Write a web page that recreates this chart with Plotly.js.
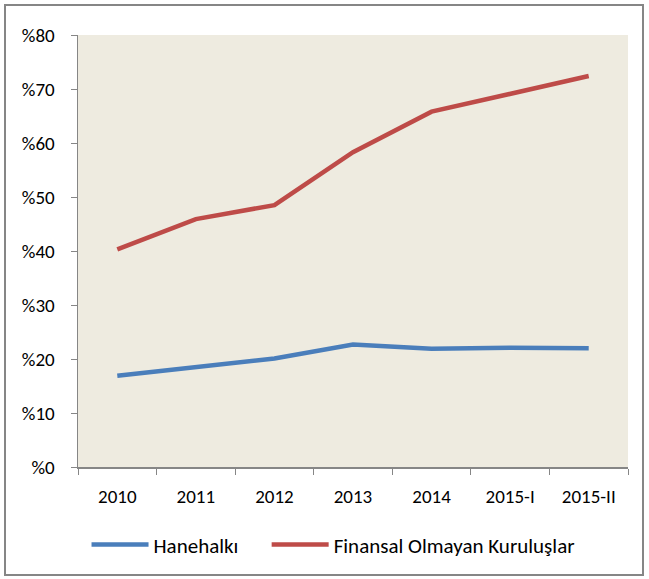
<!DOCTYPE html>
<html>
<head>
<meta charset="utf-8">
<script src="https://cdn.plot.ly/plotly-3.0.1.min.js"></script>
<style>
html,body{margin:0;padding:0;background:#fff;}
#frame{position:absolute;left:4px;top:4px;width:640px;height:572px;border:2px solid #868686;box-sizing:border-box;}
#chart{position:absolute;left:0;top:0;width:649px;height:579px;}
</style>
</head>
<body>
<div id="frame"></div>
<div id="chart"></div>
<script>
const categories = ["2010","2011","2012","2013","2014","2015-I","2015-II"];
const hanehalki = [16.9, 18.4, 20.1, 22.7, 21.9, 22.1, 22.0];
const finansalOlmayan = [40.3, 45.9, 48.5, 58.3, 65.8, 69.0, 72.4];
const seriesNames = ["Hanehalkı", "Finansal Olmayan Kuruluşlar"];

const font = "Carlito, Lato, 'Liberation Sans', sans-serif";

const traces = [
  {x: categories, y: hanehalki, name: seriesNames[0], type: "scatter", mode: "lines",
   line: {color: "#4A7EBB", width: 4.5}, legend: "legend"},
  {x: categories, y: finansalOlmayan, name: seriesNames[1], type: "scatter", mode: "lines",
   line: {color: "#BE4B48", width: 4.5}, legend: "legend2"}
];

const legendBase = {orientation: "h", xanchor: "left", y: -0.18, yanchor: "middle",
  font: {family: font, size: 21, color: "#000"}, bgcolor: "rgba(0,0,0,0)", itemwidth: 57};

const layout = {
  width: 649, height: 579,
  margin: {l: 78, r: 21, t: 35, b: 112},
  paper_bgcolor: "rgba(0,0,0,0)",
  plot_bgcolor: "#EEEBE0",
  font: {family: font, size: 19, color: "#000"},
  showlegend: true,
  legend: Object.assign({}, legendBase, {x: 0.0155}),
  legend2: Object.assign({}, legendBase, {x: 0.343}),
  xaxis: {type: "category", range: [-0.5, 6.5], showgrid: false, zeroline: false, showline: true,
          linecolor: "#868686", linewidth: 1.5, ticks: "outside", ticklen: 6, tickcolor: "#868686",
          tickson: "boundaries", ticklabelstandoff: 12, tickfont: {family: font, size: 19}, fixedrange: true},
  yaxis: {range: [0, 80], dtick: 10, tick0: 0, tickprefix: "%", showgrid: false, zeroline: false,
          showline: true, linecolor: "#868686", linewidth: 1.5, ticks: "outside", ticklen: 6,
          tickcolor: "#868686", ticklabelstandoff: 12, tickfont: {family: font, size: 19}, fixedrange: true}
};

Plotly.newPlot("chart", traces, layout, {displayModeBar: false, staticPlot: true});
</script>
</body>
</html>
